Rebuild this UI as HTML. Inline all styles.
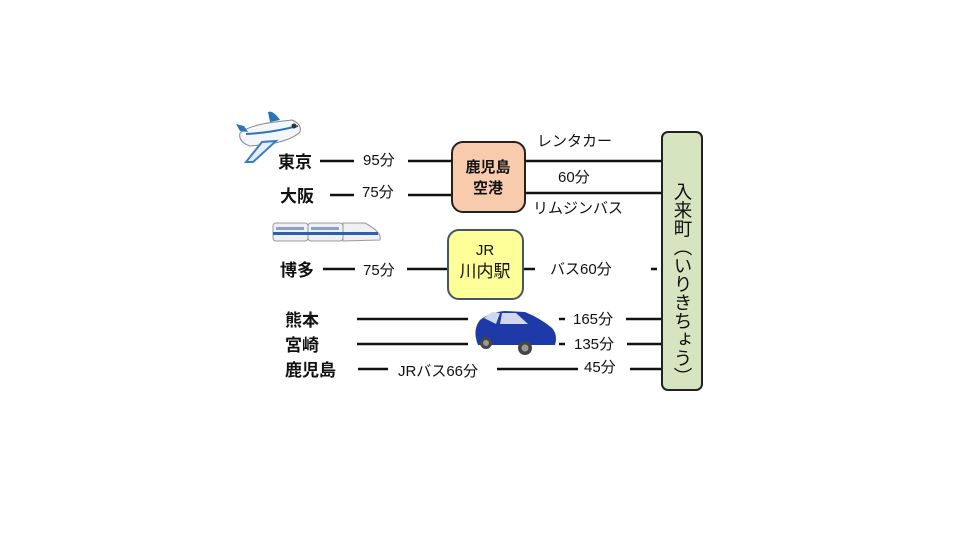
<!DOCTYPE html>
<html><head><meta charset="utf-8"><style>
html,body{margin:0;padding:0;background:#fff;width:960px;height:540px;overflow:hidden;position:relative}
svg text{font-family:"Liberation Sans","Noto Sans CJK JP",sans-serif;fill:#111}
#v{position:absolute;left:672px;top:182px;writing-mode:vertical-rl;font-family:"Liberation Sans","Noto Sans CJK JP",sans-serif;font-size:18.5px;line-height:20px;color:#111;white-space:nowrap}
</style></head><body>
<svg width="960" height="540" viewBox="0 0 960 540" xmlns="http://www.w3.org/2000/svg" style="position:absolute;left:0;top:0">
<g stroke="#111" stroke-width="2.5" fill="none">
<line x1="320" y1="161" x2="354" y2="161"/><line x1="408" y1="161" x2="452" y2="161"/>
<line x1="330" y1="195" x2="354" y2="195"/><line x1="408" y1="195" x2="452" y2="195"/>
<line x1="525" y1="161" x2="662" y2="161"/><line x1="525" y1="193" x2="662" y2="193"/>
<line x1="323" y1="269" x2="355" y2="269"/><line x1="407" y1="269" x2="448" y2="269"/>
<line x1="523" y1="269" x2="535" y2="269"/><line x1="651" y1="269" x2="657" y2="269"/>
<line x1="357" y1="319" x2="468" y2="319"/><line x1="559" y1="319" x2="565" y2="319"/><line x1="626" y1="319" x2="662" y2="319"/>
<line x1="357" y1="344" x2="468" y2="344"/><line x1="559" y1="344" x2="565" y2="344"/><line x1="627" y1="344" x2="662" y2="344"/>
<line x1="358" y1="369" x2="388" y2="369"/><line x1="497" y1="369" x2="578" y2="369"/><line x1="630" y1="369" x2="662" y2="369"/>
</g>
<rect x="452" y="142" width="73" height="70" rx="11" fill="#f8cbad" stroke="#222" stroke-width="2"/>
<rect x="448" y="230" width="75" height="69" rx="11" fill="#ffff99" stroke="#44546a" stroke-width="2"/>
<rect x="662" y="132" width="40" height="258" rx="6" fill="#d6e4bf" stroke="#222" stroke-width="2"/>
<g font-size="17" font-weight="bold">
<text x="278" y="168">東京</text><text x="280" y="202">大阪</text><text x="280" y="276">博多</text>
<text x="285" y="326">熊本</text><text x="285" y="351">宮崎</text><text x="285" y="376">鹿児島</text>
</g>
<g font-size="15">
<text x="363" y="165">95分</text><text x="362" y="197">75分</text><text x="363" y="275">75分</text>
<text x="537" y="146">レンタカー</text><text x="558" y="182">60分</text><text x="533" y="213">リムジンバス</text>
<text x="550" y="274">バス60分</text>
<text x="573" y="324">165分</text><text x="574" y="349">135分</text><text x="584" y="372">45分</text>
<text x="398" y="376">JRバス66分</text>
<text x="488" y="172" text-anchor="middle" font-weight="bold">鹿児島</text>
<text x="488" y="193" text-anchor="middle" font-weight="bold">空港</text>
<text x="485" y="255" text-anchor="middle">JR</text>
<text x="485" y="277" text-anchor="middle" font-size="17">川内駅</text>
</g>
<!-- plane -->
<g>
<path d="M240 133 Q250 125 275 122 L292 120 Q302 124 300 132 Q292 140 270 144 L250 146 Q238 142 240 133Z" fill="#f4f6fa" stroke="#888" stroke-width="1"/>
<path d="M270 122 L268 112 Q273 110 280 120Z" fill="#2a74b8"/>
<path d="M240 131 L236 124 L244 126 L248 132Z" fill="#2a74b8"/>
<path d="M262 142 L246 162 L253 162 L276 141Z" fill="#e8eef6" stroke="#3a7fc0" stroke-width="2"/>
<path d="M246 134 Q270 133 298 126" stroke="#2a74b8" stroke-width="2" fill="none"/>
<circle cx="294" cy="126" r="2.5" fill="#333"/>
</g>
<!-- train -->
<g>
<rect x="273" y="223" width="35" height="18" rx="3" fill="#eef0f4" stroke="#999"/>
<rect x="308" y="223" width="35" height="18" rx="3" fill="#eef0f4" stroke="#999"/>
<path d="M343 223 L365 223 Q382 232 380 240 L343 241Z" fill="#eef0f4" stroke="#999"/>
<rect x="273" y="232" width="105" height="3" fill="#2f5fa8"/>
<rect x="276" y="227" width="28" height="3" fill="#8aa0c8"/><rect x="311" y="227" width="28" height="3" fill="#8aa0c8"/>
</g>
<!-- car -->
<g>
<path d="M478 345 Q472 330 480 320 Q490 312 505 311 L525 312 Q540 318 552 328 Q558 335 555 345 Z" fill="#1e3aa8"/>
<path d="M484 318 L492 312 L500 313 L496 324 Z M502 313 L516 313 L528 324 L500 324Z" fill="#cfd8ee"/>
<circle cx="486" cy="343" r="6" fill="#444"/><circle cx="525" cy="348" r="7" fill="#444"/>
<circle cx="486" cy="343" r="3" fill="#999"/><circle cx="525" cy="348" r="3.5" fill="#999"/>
</g>
</svg>
<div id="v">入来町（いりきちょう）</div>
</body></html>
